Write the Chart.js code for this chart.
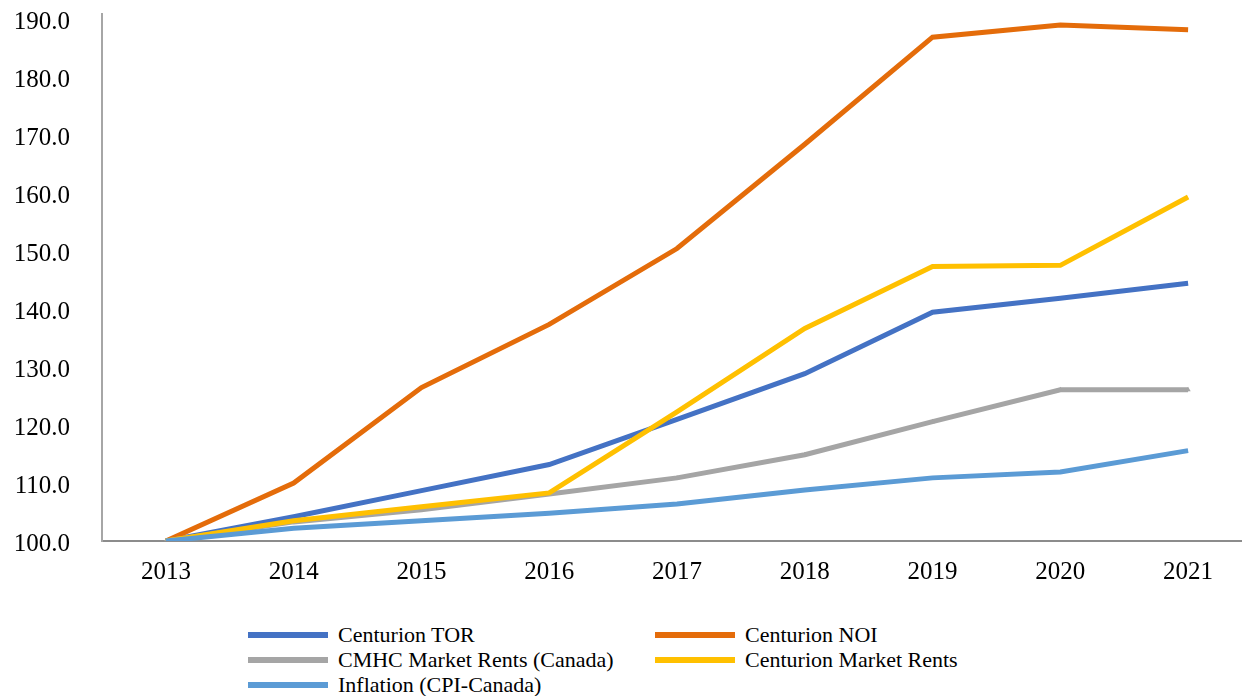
<!DOCTYPE html>
<html>
<head>
<meta charset="utf-8">
<script src="https://cdn.jsdelivr.net/npm/chart.js@4"></script>
<style>
  html, body { margin: 0; padding: 0; background: #fff; overflow: hidden; }
  #wrap { position: relative; width: 1242px; height: 696px; overflow: hidden; }
  #box { position: absolute; left: 0; top: 0; width: 1256px; height: 600px; }
  #legend { position: absolute; left: 0; top: 622px; width: 1242px; font-family: 'Liberation Serif', 'Times New Roman', serif; font-size: 22px; color: #000; }
  .li { position: absolute; height: 25px; line-height: 25px; white-space: nowrap; }
  .li span.sw { position: absolute; left: 0; top: 10px; width: 80px; height: 6px; }
  .li span.tx { position: absolute; left: 90px; top: 0; }
</style>
</head>
<body>
<div id="wrap">
  <div id="box"><canvas id="chart"></canvas></div>
  <div id="legend"></div>
</div>
<script>
const years = ['2013', '2014', '2015', '2016', '2017', '2018', '2019', '2020', '2021'];
const seriesNames = ['Centurion TOR', 'Centurion NOI', 'CMHC Market Rents (Canada)', 'Centurion Market Rents', 'Inflation (CPI-Canada)'];
const torVals = [100.0, 104.2, 108.7, 113.2, 121.0, 128.9, 139.5, 141.9, 144.5];
const noiVals = [100.0, 110.0, 126.5, 137.4, 150.5, 168.5, 187.0, 189.1, 188.3];
const cmhcVals = [100.0, 103.3, 105.4, 108.1, 110.9, 114.9, 120.6, 126.1, 126.1];
const rentVals = [100.0, 103.5, 105.9, 108.3, 122.3, 136.7, 147.4, 147.6, 159.4];
const cpiVals = [100.0, 102.2, 103.5, 104.8, 106.4, 108.8, 110.9, 111.9, 115.6];
const colors = ['#4472C4', '#E46C0A', '#A5A5A5', '#FFC000', '#5B9BD5'];
const yTicks = [100, 110, 120, 130, 140, 150, 160, 170, 180, 190];

const serif = "'Liberation Serif', 'Times New Roman', serif";
const allVals = [torVals, noiVals, cmhcVals, rentVals, cpiVals];

const datasets = allVals.map((vals, i) => ({
  label: seriesNames[i],
  data: vals,
  borderColor: colors[i],
  backgroundColor: colors[i],
  borderWidth: 5,
  pointRadius: i === 2 ? 3 : 0,
  pointStyle: 'triangle',
  pointBorderWidth: 0,
  tension: 0,
  order: 4 - i   // later series on top, like the original
}));

new Chart(document.getElementById('chart'), {
  type: 'line',
  data: { labels: years, datasets },
  options: {
    responsive: true, maintainAspectRatio: false, animation: false,
    layout: { padding: { top: 14, left: 0, right: 0, bottom: 0 } },
    plugins: { legend: { display: false }, tooltip: { enabled: false } },
    scales: {
      x: {
        offset: true,
        grid: { display: false, drawTicks: false },
        border: { display: true, color: '#8c8c8c', width: 2 },
        ticks: { color: '#000', font: { family: serif, size: 25 }, padding: 16, maxRotation: 0 },
        afterFit: s => { s.height = 59; s.paddingLeft = 0; s.paddingRight = 0; }
      },
      y: {
        min: 100, max: 191,
        grid: { display: false, drawTicks: false },
        border: { display: true, color: '#a6a6a6', width: 2 },
        afterBuildTicks: s => { s.ticks = yTicks.map(v => ({ value: v })); },
        ticks: { color: '#000', font: { family: serif, size: 25 }, padding: 32, labelOffset: 3, callback: v => Number(v).toFixed(1) },
        afterFit: s => { s.width = 102; s.paddingTop = 0; s.paddingBottom = 0; }
      }
    }
  }
});

// two-column legend under the plot
const legend = document.getElementById('legend');
const colX = [248, 655];
seriesNames.forEach((name, i) => {
  const el = document.createElement('div');
  el.className = 'li';
  el.style.left = colX[i % 2] + 'px';
  el.style.top = (Math.floor(i / 2) * 25) + 'px';
  el.innerHTML = '<span class="sw" style="background:' + colors[i] + '"></span><span class="tx">' + name + '</span>';
  legend.appendChild(el);
});
</script>
</body>
</html>
